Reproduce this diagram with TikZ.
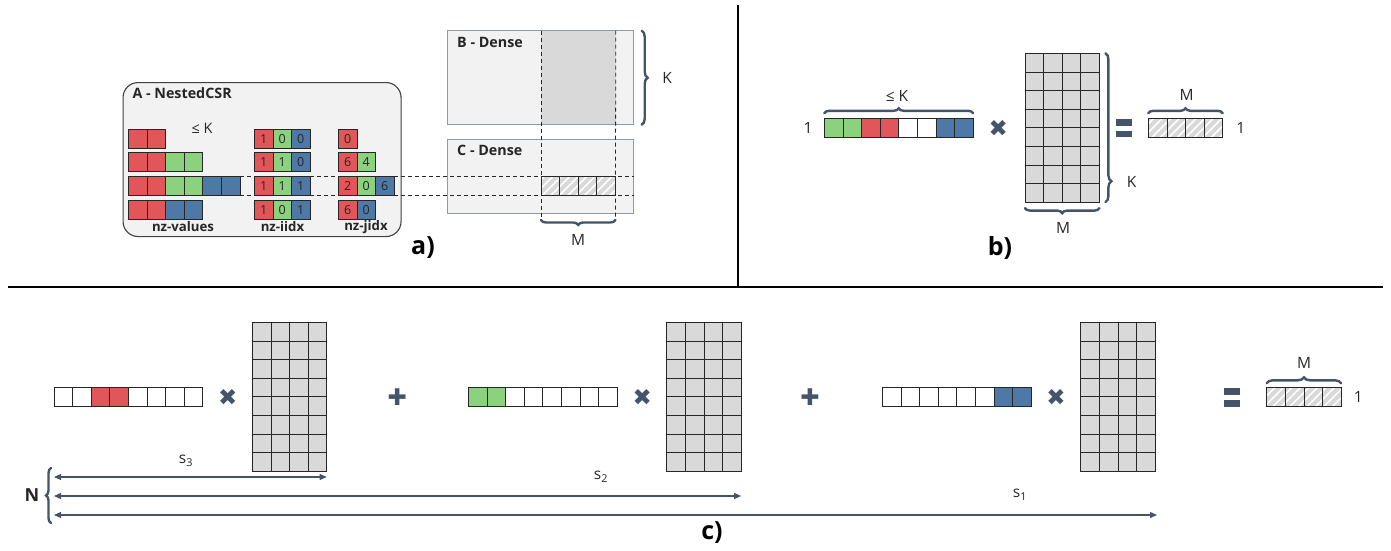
\documentclass[tikz,border=0pt]{standalone}
\usepackage{fontspec}
\setmainfont{Open Sans}
\newfontfamily\symfont{DejaVu Sans}
\usetikzlibrary{decorations.pathreplacing,arrows.meta,patterns.meta}
\definecolor{cred}{HTML}{E15759}
\definecolor{cgreen}{HTML}{8CD17D}
\definecolor{cblue}{HTML}{4E79A7}
\definecolor{slate}{HTML}{44546A}
\definecolor{panel}{HTML}{F2F2F2}
\definecolor{mgray}{HTML}{D9D9D9}
\definecolor{bgray}{HTML}{8C9BAB}
\definecolor{txt}{HTML}{262626}
\newcommand\plainrow[4]{\foreach \cl [count=\i] in {#4}{\node[cell,fill=\cl] (#1-\i) at ({#2+(\i-1)*18.6},{#3}) {};}}
\newcommand\numrow[4]{\foreach \cl/\tx [count=\i] in {#4}{\node[cell,fill=\cl] (#1-\i) at ({#2+(\i-1)*18.6},{#3}) {\tx};}}
\newcommand\hatchrow[3]{\foreach \i in {1,...,4}{\node[hatch] (#1-\i) at ({#2+(\i-1)*18.6},{#3}) {};}}
\newcommand\densemat[3]{\foreach \r in {1,...,8}{\foreach \k in {1,...,4}{\node[cell,fill=mgray] (#1-\r-\k) at ({#2+(\k-1)*18.6},{#3+(\r-1)*18.6}) {};}}}
\newcommand\eqsign[2]{\fill[slate] (#1,#2) rectangle ++(16,6.7); \fill[slate] (#1,{#2+11.7}) rectangle ++(16,6.7);}
\begin{document}
\begin{tikzpicture}[x=1pt,y=-1pt,
  cell/.style={draw=black!85, line width=0.8pt, minimum width=18.6pt, minimum height=18.6pt, inner sep=0pt, outer sep=0pt, anchor=north west, text=txt, font=\fontsize{12.5}{12.5}\selectfont},
  hatch/.style={cell, preaction={fill=mgray}, pattern={Lines[angle=45,distance=6pt,line width=1.6pt]}, pattern color=white},
  brc/.style={decorate, decoration={brace, amplitude=5pt, raise=5pt}, draw=slate, line width=2.4pt, line cap=round},
  lbl/.style={font=\fontsize{15.5}{15.5}\selectfont, text=txt, inner sep=0pt},
  ttl/.style={font=\bfseries\fontsize{14.3}{14.3}\selectfont, text=txt, inner sep=0pt, anchor=west},
  sub/.style={font=\bfseries\fontsize{13.2}{13.2}\selectfont, text=txt, inner sep=0pt},
  big/.style={font=\bfseries\fontsize{25}{25}\selectfont, text=black, inner sep=0pt},
  op/.style={font=\symfont\fontsize{23}{23}\selectfont, text=slate, inner sep=0pt},
  dim/.style={draw=slate, line width=1.2pt, {Triangle[length=7pt,width=6pt]}-{Triangle[length=7pt,width=6pt]}},
  dsh/.style={draw=black!85, dash pattern=on 4pt off 3pt, line width=0.8pt},
]
\useasboundingbox (0,0) rectangle (1391,551);
% separators
\draw[line width=1.8pt] (738.3,5) -- (738.3,287);
\draw[line width=1.8pt] (8,287) -- (1383,287);

% ---------------- a) ----------------
\node[draw=black!75, fill=panel, line width=1.1pt, rounded corners=15pt, minimum width=278pt, minimum height=154pt, anchor=north west, inner sep=0pt] (Abox) at (122.5,82) {};
\node[ttl] (Atitle) at (132.3,93.3) {A - NestedCSR};
\node[lbl, font=\fontsize{14.5}{14.5}\selectfont] (leK) at (202,128.5) {≤ K};
\plainrow{v1}{128.3}{129.3}{cred,cred}
\plainrow{v2}{128.3}{152.7}{cred,cred,cgreen,cgreen}
\plainrow{v3}{128.3}{176.7}{cred,cred,cgreen,cgreen,cblue,cblue}
\plainrow{v4}{128.3}{200.7}{cred,cred,cblue,cblue}
\numrow{ii1}{254.3}{129.3}{cred/1,cgreen/0,cblue/0}
\numrow{ii2}{254.3}{152.7}{cred/1,cgreen/1,cblue/0}
\numrow{ii3}{254.3}{176.7}{cred/1,cgreen/1,cblue/1}
\numrow{ii4}{254.3}{200.7}{cred/1,cgreen/0,cblue/1}
\numrow{jj1}{338.3}{129.3}{cred/0}
\numrow{jj2}{338.3}{152.7}{cred/6,cgreen/4}
\numrow{jj3}{338.3}{176.7}{cred/2,cgreen/0,cblue/6}
\numrow{jj4}{338.3}{200.7}{cred/6,cblue/0}
\node[sub] (lv) at (183,227) {nz-values};
\node[sub] (li) at (282.5,227) {nz-iidx};
\node[sub] (lj) at (366,227) {nz-jidx};
\node[big] (la) at (423,248) {a)};

\node[fill=panel, minimum width=186pt, minimum height=93.6pt, anchor=north west, inner sep=0pt] (B) at (447.3,30.7) {};
\node[fill=mgray, minimum width=74.4pt, minimum height=93.6pt, anchor=north west, inner sep=0pt] (Bcol) at (541,30.7) {};
\draw[draw=bgray, line width=0.9pt] (B.north west) rectangle (B.south east);
\node[ttl] (Btitle) at (457,42.3) {B - Dense};
\node[draw=bgray, fill=panel, line width=0.9pt, minimum width=186pt, minimum height=74.3pt, anchor=north west, inner sep=0pt] (C) at (447.3,139) {};
\node[ttl] (Ctitle) at (457,150.7) {C - Dense};
\hatchrow{cr}{541}{176.7}
\draw[dsh] (v3-1.north west) -- (C.east |- v3-1.north west);
\draw[dsh] (v3-1.south west) -- (C.east |- v3-1.south west);
\coordinate (mbl) at (541,220);
\coordinate (mbr) at (615.4,220);
\draw[dsh] (Bcol.north west) -- (mbl);
\draw[dsh] (Bcol.north east) -- (mbr);
\draw[brc, decoration={raise=8pt, amplitude=6pt}] (B.north east) -- (B.south east);
\node[lbl] (Ka) at (667,78) {K};
\draw[brc, decoration={raise=0pt, amplitude=5pt}] (mbr) -- (mbl);
\node[lbl] (Ma) at (578,240) {M};

% ---------------- b) ----------------
\node[lbl] (one1) at (808,128.3) {1};
\plainrow{bv}{824.3}{118.3}{cgreen,cgreen,cred,cred,white,white,cblue,cblue}
\draw[brc] (bv-1.north west) -- (bv-8.north east);
\node[lbl] (leKb) at (897,96) {≤ K};
\node[op] (xb) at (998.3,128.3) {✖};
\densemat{bm}{1025}{53.3}
\draw[brc, decoration={raise=6pt, amplitude=6pt, aspect=0.86}] (bm-1-4.north east) -- (bm-8-4.south east);
\node[lbl] (Kb) at (1131.7,181.7) {K};
\draw[brc, decoration={raise=6pt}] (bm-8-4.south east) -- (bm-8-1.south west);
\node[lbl] (Mb) at (1063,228) {M};
\eqsign{1116}{119}
\hatchrow{br}{1148.3}{118.3}
\draw[brc] (br-1.north west) -- (br-4.north east);
\node[lbl] (Mb2) at (1186.7,95) {M};
\node[lbl] (one2) at (1240.7,128.3) {1};
\node[big] (lb) at (1000,248) {b)};

% ---------------- c) ----------------
\plainrow{c1}{54}{387.3}{white,white,cred,cred,white,white,white,white}
\node[op] (x1) at (227.7,397) {✖};
\densemat{m1}{252.3}{322.3}
\node[op] (p1) at (397.3,397) {✚};
\plainrow{c2}{468.3}{387.3}{cgreen,cgreen,white,white,white,white,white,white}
\node[op] (x2) at (642.3,397) {✖};
\densemat{m2}{666.7}{322.3}
\node[op] (p2) at (810,397) {✚};
\plainrow{c3}{882.3}{387.3}{white,white,white,white,white,white,cblue,cblue}
\node[op] (x3) at (1056,397) {✖};
\densemat{m3}{1080.7}{322.3}
\eqsign{1224.3}{388.3}
\hatchrow{cr2}{1266.7}{387.3}
\draw[brc, decoration={raise=4pt, amplitude=6pt}] (cr2-1.north west) -- (cr2-4.north east);
\node[lbl] (Mc) at (1304,363.3) {M};
\node[lbl] (one3) at (1358.3,396.7) {1};

\coordinate (a1) at (54,477);
\coordinate (a2) at (54,496);
\coordinate (a3) at (54,515);
\coordinate (a3e) at (1157,515);
\draw[dim] (a1) -- (m1-8-4.east |- a1);
\draw[dim] (a2) -- (m2-8-4.east |- a2);
\draw[dim] (a3) -- (a3e);
\node[lbl] (s3) at (186,460.7) {s\textsubscript{3}};
\node[lbl] (s2) at (601,477) {s\textsubscript{2}};
\node[lbl] (s1) at (1020,495) {s\textsubscript{1}};
\coordinate (nb) at (51,523);
\coordinate (nt) at (51,468);
\draw[brc, decoration={raise=0pt, amplitude=5pt}] (nb) -- (nt);
\node[font=\bfseries\fontsize{18}{18}\selectfont, text=txt, inner sep=0pt] (N) at (32,495) {N};
\node[big] (lc) at (712,533) {c)};
\end{tikzpicture}
\end{document}
